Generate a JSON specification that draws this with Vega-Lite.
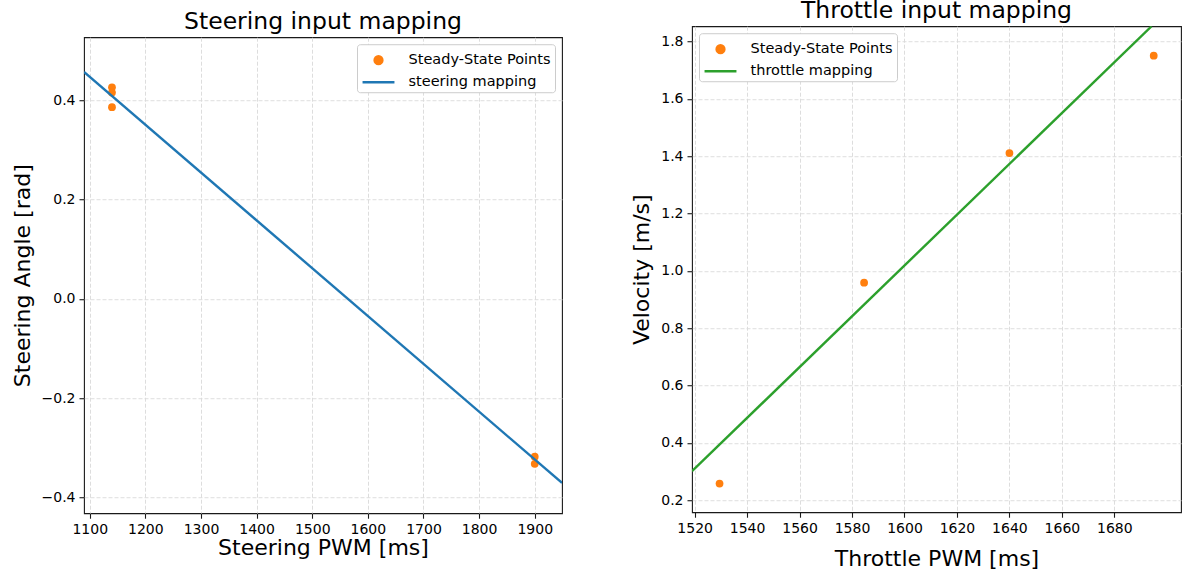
{
  "$schema": "https://vega.github.io/schema/vega-lite/v6.json",
  "background": "white",
  "padding": {"left": 10, "top": -2, "right": 19, "bottom": 0},
  "spacing": 67,
  "center": true,
  "datasets": {
    "steer_points": [
      {"pwm": 1140, "value": 0.426, "series": "Steady-State Points"},
      {"pwm": 1140, "value": 0.4155, "series": "Steady-State Points"},
      {"pwm": 1140, "value": 0.386, "series": "Steady-State Points"},
      {"pwm": 1900, "value": -0.318, "series": "Steady-State Points"},
      {"pwm": 1900, "value": -0.3325, "series": "Steady-State Points"}
    ],
    "steer_line": [
      {"pwm": 1089.7, "value": 0.457, "series": "steering mapping"},
      {"pwm": 1949, "value": -0.371, "series": "steering mapping"}
    ],
    "throttle_points": [
      {"pwm": 1529.5, "value": 0.258, "series": "Steady-State Points"},
      {"pwm": 1584.6, "value": 0.959, "series": "Steady-State Points"},
      {"pwm": 1640, "value": 1.411, "series": "Steady-State Points"},
      {"pwm": 1695, "value": 1.751, "series": "Steady-State Points"}
    ],
    "throttle_line": [
      {"pwm": 1519.0, "value": 0.301, "series": "throttle mapping"},
      {"pwm": 1694.2, "value": 1.8537, "series": "throttle mapping"}
    ]
  },
  "config": {
    "font": "DejaVu Sans",
    "view": {"stroke": "#1a1a1a", "strokeWidth": 1.1},
    "axis": {
      "domain": false,
      "grid": true,
      "gridColor": "#d9d9d9",
      "gridDash": [4, 2],
      "gridWidth": 0.9,
      "tickColor": "#1a1a1a",
      "tickSize": 5,
      "tickWidth": 1.1,
      "labelFont": "DejaVu Sans",
      "labelFontSize": 14,
      "labelColor": "#000000",
      "labelPadding": 4,
      "titleFont": "DejaVu Sans",
      "titleFontSize": 22,
      "titleFontWeight": "normal",
      "titleColor": "#000000"
    },
    "axisY": {"titlePadding": 7},
    "title": {"font": "DejaVu Sans", "fontSize": 23.5, "fontWeight": "normal", "color": "#000000", "anchor": "middle"}
  },
  "resolve": {
    "scale": {"color": "independent", "shape": "independent"},
    "legend": {"color": "independent", "shape": "independent"}
  },
  "hconcat": [
    {
      "width": 478,
      "height": 476,
      "title": {"text": "Steering input mapping", "offset": 4},
      "layer": [
        {
          "data": {"name": "steer_points"},
          "mark": {"type": "point", "filled": true, "size": 60, "opacity": 1},
          "encoding": {
            "x": {"field": "pwm", "type": "quantitative", "scale": {"domain": [1089.7, 1949], "nice": false, "zero": false}, "axis": {"values": [1100, 1200, 1300, 1400, 1500, 1600, 1700, 1800, 1900], "format": "d", "title": "Steering PWM [ms]", "titlePadding": 1}},
            "y": {"field": "value", "type": "quantitative", "scale": {"domain": [-0.432, 0.527], "nice": false, "zero": false}, "axis": {"values": [-0.4, -0.2, 0, 0.2, 0.4], "format": ".1f", "title": "Steering Angle [rad]"}},
            "color": {"field": "series", "type": "nominal", "scale": {"domain": ["Steady-State Points", "steering mapping"], "range": ["#ff7f0e", "#1f77b4"]},
              "legend": {"title": null, "orient": "top-right", "offset": 7, "padding": 3.5, "strokeColor": "#cccccc", "fillColor": "#ffffff", "cornerRadius": 3, "labelFont": "DejaVu Sans", "labelFontSize": 14.5, "labelColor": "#000000", "symbolSize": 484, "rowPadding": -2, "labelOffset": 23, "symbolOpacity": 1,
                "encode": {"symbols": {"update": {"x": {"value": 18}, "size": {"signal": "datum.value === 'Steady-State Points' ? 60 : 484"}, "stroke": {"signal": "datum.value === 'Steady-State Points' ? 'transparent' : '#1f77b4'"}, "strokeWidth": {"value": 2.5}}}}}},
            "shape": {"field": "series", "type": "nominal", "scale": {"domain": ["Steady-State Points", "steering mapping"], "range": ["circle", "M-1.45,0L1.45,0"]}}
          }
        },
        {
          "data": {"name": "steer_line"},
          "mark": {"type": "line", "strokeWidth": 2.4, "clip": true},
          "encoding": {
            "x": {"field": "pwm", "type": "quantitative"},
            "y": {"field": "value", "type": "quantitative"},
            "color": {"field": "series", "type": "nominal"}
          }
        }
      ]
    },
    {
      "width": 489,
      "height": 486,
      "title": {"text": "Throttle input mapping", "offset": 4},
      "layer": [
        {
          "data": {"name": "throttle_points"},
          "mark": {"type": "point", "filled": true, "size": 60, "opacity": 1},
          "encoding": {
            "x": {"field": "pwm", "type": "quantitative", "scale": {"domain": [1519.0, 1705.4], "nice": false, "zero": false}, "axis": {"values": [1520, 1540, 1560, 1580, 1600, 1620, 1640, 1660, 1680], "format": "d", "title": "Throttle PWM [ms]", "titlePadding": 13}},
            "y": {"field": "value", "type": "quantitative", "scale": {"domain": [0.158, 1.8537], "nice": false, "zero": false}, "axis": {"values": [0.2, 0.4, 0.6, 0.8, 1.0, 1.2, 1.4, 1.6, 1.8], "format": ".1f", "title": "Velocity [m/s]"}},
            "color": {"field": "series", "type": "nominal", "scale": {"domain": ["Steady-State Points", "throttle mapping"], "range": ["#ff7f0e", "#2ca02c"]},
              "legend": {"title": null, "orient": "top-left", "offset": 7, "padding": 3.5, "strokeColor": "#cccccc", "fillColor": "#ffffff", "cornerRadius": 3, "labelFont": "DejaVu Sans", "labelFontSize": 14.5, "labelColor": "#000000", "symbolSize": 484, "rowPadding": -2, "labelOffset": 23, "symbolOpacity": 1,
                "encode": {"symbols": {"update": {"x": {"value": 18}, "size": {"signal": "datum.value === 'Steady-State Points' ? 60 : 484"}, "stroke": {"signal": "datum.value === 'Steady-State Points' ? 'transparent' : '#2ca02c'"}, "strokeWidth": {"value": 2.5}}}}}},
            "shape": {"field": "series", "type": "nominal", "scale": {"domain": ["Steady-State Points", "throttle mapping"], "range": ["circle", "M-1.45,0L1.45,0"]}}
          }
        },
        {
          "data": {"name": "throttle_line"},
          "mark": {"type": "line", "strokeWidth": 2.4, "clip": true},
          "encoding": {
            "x": {"field": "pwm", "type": "quantitative"},
            "y": {"field": "value", "type": "quantitative"},
            "color": {"field": "series", "type": "nominal"}
          }
        }
      ]
    }
  ]
}
